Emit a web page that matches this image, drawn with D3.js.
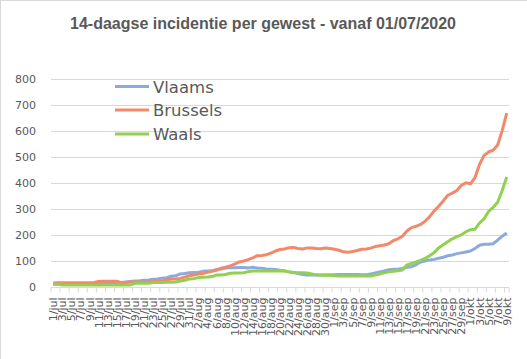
<!DOCTYPE html>
<html>
<head>
<meta charset="utf-8">
<script src="https://cdn.jsdelivr.net/npm/d3@7"></script>
<style>
  html, body { margin: 0; padding: 0; background: #fff; }
  svg { display: block; }
</style>
</head>
<body>
<script>
const title = "14-daagse incidentie per gewest - vanaf 01/07/2020";
const categories = [
  "1/jul","2/jul","3/jul","4/jul","5/jul","6/jul","7/jul","8/jul","9/jul","10/jul",
  "11/jul","12/jul","13/jul","14/jul","15/jul","16/jul","17/jul","18/jul","19/jul","20/jul",
  "21/jul","22/jul","23/jul","24/jul","25/jul","26/jul","27/jul","28/jul","29/jul","30/jul","31/jul",
  "1/aug","2/aug","3/aug","4/aug","5/aug","6/aug","7/aug","8/aug","9/aug","10/aug",
  "11/aug","12/aug","13/aug","14/aug","15/aug","16/aug","17/aug","18/aug","19/aug","20/aug",
  "21/aug","22/aug","23/aug","24/aug","25/aug","26/aug","27/aug","28/aug","29/aug","30/aug","31/aug",
  "1/sep","2/sep","3/sep","4/sep","5/sep","6/sep","7/sep","8/sep","9/sep","10/sep",
  "11/sep","12/sep","13/sep","14/sep","15/sep","16/sep","17/sep","18/sep","19/sep","20/sep",
  "21/sep","22/sep","23/sep","24/sep","25/sep","26/sep","27/sep","28/sep","29/sep","30/sep",
  "1/okt","2/okt","3/okt","4/okt","5/okt","6/okt","7/okt","8/okt","9/okt"
];
const vlaams = [
  11,11,11,11,11,11,12,12,12,13, 13,14,14,15,16,17,19,21,23,24,
  26,27,30,31,34,36,41,43,50,52, 55,56,57,60,61,62,67,69,73,74,
  74,75,75,73,76,73,72,69,68,67, 64,62,58,56,52,48,46,46,46,46,
  46,47,47,48,48,48,48,48,47,47, 50,54,58,62,66,68,68,71,76,78,
  85,96,100,104,106,110,114,120,123,128, 131,134,138,148,160,164,164,166,180,195,
  207
];
const brussels = [
  15,16,16,16,16,16,16,16,16,17, 21,22,22,22,22,17,17,19,19,19,
  19,19,21,21,23,27,31,31,33,38, 43,46,50,52,56,60,64,72,76,81,
  88,96,100,105,112,120,121,124,130,138, 144,146,151,152,148,146,150,150,148,147,
  150,148,145,141,135,133,136,140,145,146, 149,155,158,161,166,178,185,195,215,228,
  233,240,252,270,292,310,330,352,360,370, 390,400,396,420,470,505,518,525,545,600,
  667
];
const waals = [
  11,11,8,8,8,8,8,8,8,8, 8,8,8,8,8,8,8,8,14,14,
  14,14,17,17,17,18,18,19,23,26, 31,32,36,37,38,40,46,46,48,53,
  54,54,55,59,61,61,61,61,61,61, 62,61,58,55,55,55,54,50,46,46,
  45,45,43,42,42,42,42,42,42,42, 42,46,50,55,58,60,62,65,85,90,
  96,102,110,120,132,150,162,174,185,193, 200,212,220,222,245,262,290,305,325,370,
  422
];
const seriesNames = ["Vlaams", "Brussels", "Waals"];
const seriesColors = ["#8eaadc", "#f1896a", "#92d050"];
const yTicks = [0, 100, 200, 300, 400, 500, 600, 700, 800];

const W = 527, H = 359;
const margin = { left: 51, right: 18, top: 78.5, bottom: 72 };
const svg = d3.select("body").append("svg").attr("width", W).attr("height", H);

// chart border (top + left visible)
svg.append("line").attr("x1", 0.5).attr("x2", 0.5).attr("y1", 0).attr("y2", H).attr("stroke", "#d9d9d9");
svg.append("line").attr("x1", 0).attr("x2", W).attr("y1", 0.5).attr("y2", 0.5).attr("stroke", "#d9d9d9");

const x = d3.scaleBand().domain(categories).range([margin.left, W - margin.right]).padding(0);
const y = d3.scaleLinear().domain([0, 800]).range([H - margin.bottom, margin.top]);

// title
svg.append("text").attr("x", 263).attr("y", 29).attr("text-anchor", "middle")
  .attr("font-family", "Liberation Sans, Arial, sans-serif").attr("font-weight", "bold")
  .attr("font-size", 16).attr("fill", "#595959").text(title);

// gridlines
svg.append("g").selectAll("line").data(yTicks).join("line")
  .attr("x1", margin.left).attr("x2", W - margin.right)
  .attr("y1", d => Math.round(y(d)) + 0.5).attr("y2", d => Math.round(y(d)) + 0.5)
  .attr("stroke", "#d9d9d9").attr("stroke-width", 1);

// y labels
const yAxis = d3.axisLeft(y).tickValues(yTicks).tickSize(0).tickPadding(0);
const gy = svg.append("g").attr("transform", `translate(${margin.left - 15},0)`).call(yAxis);
gy.select(".domain").remove();
gy.selectAll("text").attr("font-family", "DejaVu Sans, Verdana, sans-serif")
  .attr("font-size", 11).attr("fill", "#595959");

// x axis ticks + labels
const x0 = Math.round(y(0)) + 0.5;
const tickIdx = categories.map((c, i) => i).filter(i => i % 2 === 0);
svg.append("g").selectAll("line").data(tickIdx.concat([categories.length])).join("line")
  .attr("x1", i => x.range()[0] + i * x.bandwidth()).attr("x2", i => x.range()[0] + i * x.bandwidth())
  .attr("y1", x0).attr("y2", x0 + 5).attr("stroke", "#d9d9d9");
svg.append("g").selectAll("text").data(tickIdx).join("text")
  .attr("transform", i => `translate(${x(categories[i]) + x.bandwidth() / 2 + 4},${x0 + 10}) rotate(-90)`)
  .attr("text-anchor", "end")
  .attr("font-family", "DejaVu Sans, Verdana, sans-serif")
  .attr("font-size", 11).attr("fill", "#595959")
  .text(i => categories[i]);

// lines
const data = [vlaams, brussels, waals];
const line = d3.line().x((d, i) => x(categories[i]) + x.bandwidth() / 2).y(d => y(d));
svg.append("g").selectAll("path").data(data).join("path")
  .attr("d", d => line(d)).attr("fill", "none")
  .attr("stroke", (d, i) => seriesColors[i]).attr("stroke-width", 3)
  .attr("stroke-linejoin", "round").attr("stroke-linecap", "butt");

// legend
const lg = svg.append("g");
const legY = [86.5, 110, 134];
seriesNames.forEach((n, i) => {
  lg.append("line").attr("x1", 115).attr("x2", 149).attr("y1", legY[i]).attr("y2", legY[i])
    .attr("stroke", seriesColors[i]).attr("stroke-width", 3);
  lg.append("text").attr("x", 153).attr("y", legY[i] + 6)
    .attr("font-family", "DejaVu Sans, Verdana, sans-serif").attr("font-size", 16.5)
    .attr("fill", "#595959").text(n);
});
</script>
</body>
</html>
